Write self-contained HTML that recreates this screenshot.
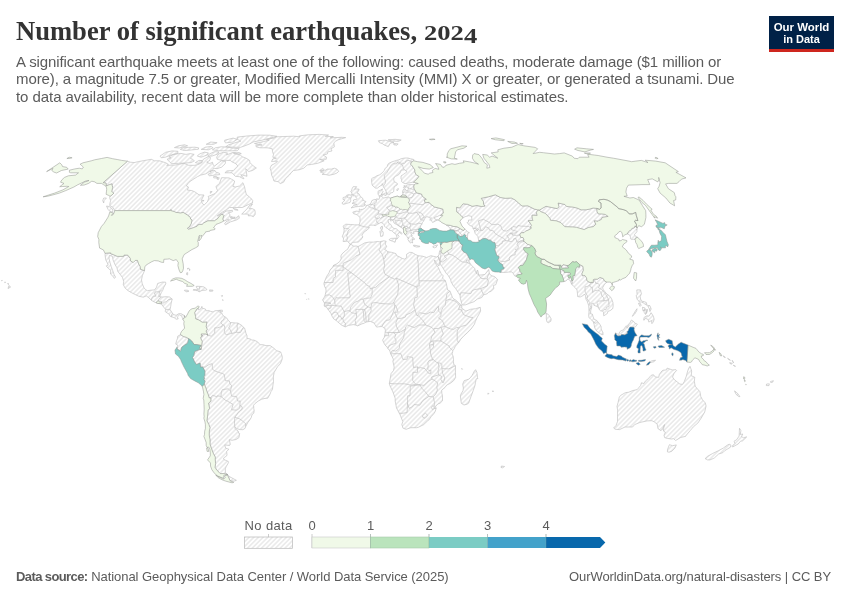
<!DOCTYPE html>
<html lang="en"><head><meta charset="utf-8"><title>Number of significant earthquakes, 2024</title>
<style>
html,body{margin:0;padding:0;background:#fff;}
body{width:850px;height:600px;position:relative;overflow:hidden;font-family:"Liberation Sans",sans-serif;}
.abs{position:absolute;white-space:nowrap;}
#title{left:16px;top:14.7px;font-family:"Liberation Serif",serif;font-weight:bold;font-size:28px;line-height:32px;color:#333;}
#tmain{display:inline-block;transform-origin:0 50%;transform:scaleX(0.949);margin-right:-21.9px;}
#yr{display:inline-block;font-size:20px;transform-origin:0 78%;transform:scaleX(1.33);}
#yr i{font-style:normal;display:inline-block;position:relative;top:3.5px;}
.sub{left:16px;font-size:15px;line-height:18px;color:#5b5b5b;}
.foot{font-size:13px;line-height:16px;color:#5b5b5b;top:569px;}
.lg{font-size:13px;line-height:14px;color:#5b5b5b;top:519px;transform:translateX(-50%);}
#logo{left:769px;top:16px;width:65px;height:35.7px;background:linear-gradient(#002147 0,#002147 33.1px,#ce261e 33.1px,#ce261e 100%);color:#fff;font-weight:bold;font-size:11px;line-height:12.3px;text-align:center;}
</style></head><body>
<div id="title" class="abs"><span id="tmain">Number of significant earthquakes,&nbsp;</span><span id="yr">202<i>4</i></span></div>
<div id="s1" class="abs sub" style="top:52.5px;letter-spacing:-0.104px">A significant earthquake meets at least one of the following: caused deaths, moderate damage ($1 million or</div>
<div id="s2" class="abs sub" style="top:70px;letter-spacing:-0.092px">more), a magnitude 7.5 or greater, Modified Mercalli Intensity (MMI) X or greater, or generated a tsunami. Due</div>
<div id="s3" class="abs sub" style="top:88px;letter-spacing:-0.057px">to data availability, recent data will be more complete than older historical estimates.</div>
<div id="logo" class="abs"><div style="margin-top:5px;transform:scaleX(1.04)">Our World</div><div>in Data</div></div>
<svg id="map" width="850" height="600" viewBox="0 0 850 600" style="position:absolute;left:0;top:0">
<defs><pattern id="hatch" patternUnits="userSpaceOnUse" width="3.3" height="3.3" patternTransform="rotate(-45)"><rect width="3.3" height="3.3" fill="#fff"/><path d="M-1,1.65H5" stroke="#e1e1e1" stroke-width="1.1"/></pattern></defs>
<path d="M127.5,161.2L130.4,162.2L134.1,162.6L138.8,161.5L145.0,160.4L151.3,159.3L154.5,160.8L159.5,160.8L165.8,162.8L168.4,164.4L166.7,165.3L175.4,165.0L179.7,164.2L183.9,163.3L188.8,165.3L194.8,165.3L199.1,164.2L202.2,161.5L203.3,159.3L208.7,156.3L210.5,157.6L209.8,160.4L206.7,162.2L209.8,163.5L212.5,162.2L213.0,164.8L214.7,165.9L218.9,162.6L221.4,160.8L225.6,161.5L225.2,163.7L221.7,167.1L217.1,168.7L213.6,168.2L212.4,170.5L208.6,172.1L205.6,173.9L200.7,175.1L197.4,176.7L192.5,179.8L189.0,182.2L186.3,185.8L188.5,187.0L187.4,190.1L191.9,190.6L194.9,191.9L199.0,194.8L204.0,195.0L201.2,200.5L202.3,203.3L204.1,205.0L207.4,201.8L208.9,198.0L208.1,196.5L215.0,193.6L217.5,190.6L215.9,186.5L219.5,183.4L221.6,177.7L229.0,177.9L231.8,179.3L234.6,181.0L234.0,183.6L232.8,186.3L235.3,187.0L239.5,186.0L242.9,182.7L244.6,187.0L245.3,190.6L246.3,194.3L249.2,196.8L250.7,198.0L252.7,200.5L252.5,203.0L248.4,204.5L242.4,207.5L234.4,207.5L229.4,207.5L226.5,209.8L222.7,211.9L217.2,215.9L222.2,213.4L226.1,211.1L232.4,210.3L232.6,211.6L228.4,213.1L230.0,214.4L229.8,216.2L230.8,218.2L231.8,218.5L235.0,218.5L238.8,215.7L239.4,218.2L236.4,220.0L230.7,221.8L225.7,224.7L224.5,223.9L226.0,221.8L229.2,220.0L228.7,219.0L226.0,220.3L223.7,221.1L222.7,219.0L223.9,215.4L223.2,214.7L221.4,214.5L219.1,216.4L217.8,218.5L214.5,220.8L207.9,220.8L203.8,222.9L202.2,224.4L199.7,224.4L197.3,225.2L197.1,226.2L193.2,227.8L188.4,229.3L187.5,228.5L187.7,227.8L189.3,227.0L189.9,226.0L191.3,223.4L192.0,220.0L190.3,218.8L190.8,218.0L189.4,217.0L188.8,215.9L183.2,212.4L180.4,213.1L178.2,212.6L175.9,212.4L174.3,211.6L171.2,210.8L170.9,209.6L170.4,210.6L114.6,210.6L114.3,209.8L112.8,207.3L109.7,205.5L110.0,203.0L110.6,200.5L109.7,198.0L109.7,197.3L110.0,196.3L112.0,195.0L113.9,193.1L111.7,191.6L112.7,187.2L112.0,185.1L112.1,183.9L109.5,184.6L106.2,186.0L106.1,183.1L103.1,182.7ZM105.0,253.3L105.2,255.9L105.7,259.8L107.1,262.5L108.2,265.1L106.2,265.9L108.4,268.5L110.7,270.3L110.5,274.0L113.4,276.8L114.4,278.4L115.6,277.1L114.2,274.8L112.8,270.8L111.2,266.4L110.0,262.5L109.0,258.5L109.4,255.4L112.5,256.4L113.0,259.8L115.0,264.6L116.9,267.7L117.8,271.4L120.5,274.8L122.5,277.6L123.7,281.3L123.3,284.7L125.1,288.1L128.1,290.7L131.2,292.5L134.9,294.4L138.7,296.2L143.2,297.2L146.3,295.9L148.8,297.8L151.5,300.4L154.1,301.9L157.4,303.3L161.3,303.8L161.9,304.8L163.9,307.4L165.6,309.3L165.2,311.6L167.0,312.9L169.2,314.2L170.0,316.1L171.6,316.9L174.1,317.6L176.1,319.2L178.2,318.9L177.4,316.9L179.6,314.8L181.8,316.1L182.4,318.2L183.0,319.5L184.5,317.6L184.3,315.5L181.2,313.7L178.7,313.7L176.1,315.3L173.4,314.5L171.7,312.1L170.0,309.5L170.7,306.4L171.2,303.0L172.2,299.1L169.5,297.0L166.1,296.7L162.6,297.0L159.7,296.7L161.3,292.5L162.7,290.4L163.8,287.3L165.8,283.9L165.6,282.1L162.2,282.1L157.7,283.4L156.5,287.3L154.4,289.9L150.9,290.2L147.4,290.7L145.3,289.4L144.0,287.8L142.3,283.9L141.5,280.0L142.4,275.5L144.5,270.6L140.5,269.3L140.2,266.4L138.6,263.8L137.5,260.4L135.3,260.4L133.2,262.5L130.5,260.9L130.3,258.3L127.7,255.1L124.0,255.1L123.6,256.4L117.4,256.4L110.1,253.3L110.5,252.8ZM112.6,212.1L109.7,211.3L108.0,209.3L106.5,206.0L109.0,206.5L111.5,208.0L112.9,210.1ZM103.7,203.0L102.7,200.5L103.8,198.0L106.4,198.0L104.1,200.5ZM241.7,214.1L244.0,211.9L247.0,208.8L249.4,205.5L252.5,204.0L250.6,206.8L249.1,208.6L252.1,208.6L254.7,209.8L255.2,211.9L255.1,214.4L253.4,216.7L251.0,215.7L248.3,215.9L248.4,214.1ZM230.8,216.4L233.2,217.2L235.2,217.2L233.3,218.2L231.0,217.5ZM233.1,208.3L237.7,209.6L238.0,210.3L234.6,209.8ZM243.1,178.6L239.5,176.7L235.3,176.3L232.0,172.8L224.9,172.8L226.9,170.9L233.3,170.5L235.6,168.2L237.8,165.9L235.8,163.7L231.4,161.5L230.5,160.4L226.4,160.4L221.4,160.4L217.3,159.3L216.6,157.2L218.6,154.0L223.3,152.3L227.5,152.9L226.5,155.0L232.6,152.5L235.0,152.5L237.8,154.0L240.2,155.0L242.2,156.7L246.1,158.2L249.6,160.4L250.0,162.6L253.2,165.9L256.4,168.0L252.5,170.5L248.4,171.6L245.7,168.7L246.4,172.1L247.0,176.3L240.7,174.6L244.0,178.6ZM210.3,170.9L215.0,170.5L215.7,172.1L219.3,173.2L219.8,174.6L214.6,175.1L209.6,175.8L207.9,174.4L211.1,172.8ZM168.3,160.4L169.8,162.2L171.6,163.7L178.8,163.3L185.7,163.0L191.2,162.6L194.4,160.8L192.5,159.3L190.3,158.2L194.2,154.4L190.3,153.6L186.1,154.4L180.9,153.4L173.3,154.4L168.8,157.0L171.1,157.8L167.0,159.3ZM160.0,156.1L161.3,157.8L165.3,157.2L171.0,155.0L177.8,153.4L177.9,151.3L172.2,150.9L165.6,152.3ZM197.3,156.1L201.1,157.2L207.2,155.0L208.4,152.9L204.5,152.1L199.4,154.0ZM207.8,156.1L211.9,156.1L217.8,154.0L219.0,151.9L214.4,151.7L209.3,154.0ZM195.4,162.6L198.8,163.5L202.1,162.6L202.1,160.6L199.0,160.4ZM212.4,149.8L218.6,150.7L227.8,150.9L237.4,150.7L239.2,148.6L233.4,148.2L227.0,147.0L221.1,146.8L215.4,147.8ZM225.7,146.8L232.9,147.2L240.3,147.4L244.9,145.8L249.7,143.9L253.0,142.0L262.0,140.2L269.4,138.4L276.9,136.3L269.7,135.2L258.9,135.1L246.9,136.0L237.2,137.1L237.3,139.3L240.9,141.1L234.5,142.9L228.6,144.8ZM224.7,140.2L233.1,138.1L237.3,139.3L233.3,142.0L225.6,142.9L224.5,141.4ZM180.3,149.4L184.4,150.5L191.2,150.0L198.4,149.2L198.6,147.8L194.8,147.2L188.4,147.4L183.3,147.8ZM201.2,149.4L208.5,149.8L213.1,147.8L211.0,146.4L205.4,147.2ZM174.4,147.6L179.2,148.0L187.6,145.8L184.5,144.8L178.5,145.8ZM206.2,144.3L213.6,144.3L217.1,142.7L210.7,142.0ZM233.5,153.4L236.6,154.4L241.3,153.6L239.0,152.5ZM213.7,176.5L216.4,176.5L218.2,177.9L213.7,177.9ZM217.3,177.9L219.2,177.7L218.4,179.6L216.9,179.1ZM201.9,200.3L204.1,200.5L202.7,201.3ZM210.4,191.4L212.2,191.6L210.3,193.3ZM254.5,143.5L263.6,141.6L269.2,140.2L266.4,139.3L273.9,138.1L276.4,136.8L285.0,136.5L293.6,136.2L300.0,136.8L299.3,135.9L308.2,134.8L319.2,134.4L328.5,135.0L325.2,136.3L333.4,136.6L330.2,137.9L341.6,137.3L345.7,137.6L338.2,139.8L335.7,141.1L333.8,142.9L334.1,144.8L334.4,146.8L330.9,148.8L332.0,150.9L327.8,151.9L327.3,154.0L323.1,155.0L326.6,157.2L326.2,159.3L319.6,159.3L324.2,160.8L317.8,163.3L311.7,164.4L307.2,165.0L303.8,168.2L299.0,169.8L293.5,170.5L291.1,172.8L289.4,175.1L285.6,178.6L283.6,182.2L280.3,183.6L278.2,181.7L273.9,181.0L273.1,178.1L271.6,175.1L271.2,171.6L270.1,168.2L271.4,165.3L275.8,163.0L277.5,161.1L271.5,161.5L272.8,158.9L276.4,158.2L272.8,157.2L273.5,154.4L272.6,151.9L272.2,148.8L267.5,147.8L259.9,147.8L256.1,146.8L255.9,145.2L262.1,145.0L255.7,143.9ZM193.2,290.2L195.5,290.4L197.5,290.7L199.2,291.8L202.1,290.4L205.5,290.2L206.9,289.7L205.7,288.1L203.6,286.8L199.8,286.4L196.8,286.3L195.9,286.8L197.1,287.8L197.6,289.7L193.5,289.5ZM184.4,290.2L187.3,290.2L189.0,291.2L186.7,291.8L184.5,290.7ZM209.6,289.9L213.0,290.2L212.7,291.2L209.5,291.2ZM220.5,310.3L222.3,310.1L222.3,311.9L220.4,311.9ZM187.2,268.5L189.1,268.2L188.0,269.3ZM186.8,272.7L187.7,272.7L187.6,275.0L186.5,274.5ZM189.4,269.0L190.0,269.3L189.6,270.6ZM221.4,295.7L222.8,295.7L221.8,296.5ZM222.5,299.6L223.2,299.9L222.9,300.6ZM180.5,334.6L177.7,336.2L177.5,338.3L176.6,340.7L175.7,344.1L177.8,345.1L177.1,347.2L177.2,349.3L179.1,350.1L180.3,351.4L180.9,350.3L181.8,347.2L184.7,345.1L187.0,343.8L187.9,342.2L188.6,338.6L186.3,337.3L183.5,336.5ZM198.8,307.4L198.0,309.8L199.4,309.5L201.1,308.5L201.9,306.4L202.2,308.2L205.4,309.0L206.2,310.8L208.8,310.6L210.8,311.4L213.1,311.9L214.9,310.8L220.3,310.3L218.6,311.6L222.2,313.5L222.4,314.8L224.6,316.6L226.6,317.9L228.4,320.5L230.6,322.6L235.2,322.9L238.0,323.1L241.9,325.5L243.4,327.3L244.6,328.1L245.9,333.1L247.0,335.7L247.0,338.3L250.7,339.1L251.6,340.1L253.9,340.1L257.4,341.7L260.2,344.8L262.5,344.6L266.0,345.6L270.2,345.6L273.6,348.0L276.4,350.6L280.6,351.9L281.3,353.5L282.3,356.9L282.1,359.4L280.4,363.7L277.5,366.8L274.2,372.3L273.3,377.0L273.5,381.5L273.0,384.8L272.4,389.6L271.1,391.4L269.7,394.8L267.7,398.2L265.0,398.4L261.7,399.2L258.2,401.1L254.8,403.7L253.6,405.2L253.8,408.6L254.2,410.5L253.8,413.1L252.0,414.9L251.1,417.8L249.8,419.9L247.8,422.5L245.6,426.6L245.1,428.3L242.9,429.7L240.1,429.6L236.4,428.5L234.8,427.0L235.1,428.8L238.2,431.1L238.6,433.2L239.7,433.5L238.9,437.7L236.1,439.5L232.0,440.3L229.3,439.7L230.3,444.4L229.5,445.5L224.7,444.9L225.6,448.1L228.9,449.3L227.7,450.4L226.6,451.4L227.0,454.8L226.7,455.8L223.5,458.1L224.0,459.6L228.3,461.4L228.4,462.8L226.1,466.8L225.3,468.8L225.4,472.6L227.8,474.6L224.2,473.6L220.2,473.6L219.1,472.3L216.9,470.3L215.0,467.3L215.6,463.5L215.2,459.6L215.3,457.1L213.2,453.2L211.3,448.1L210.0,444.2L210.0,439.7L209.2,435.1L209.3,431.1L210.0,427.7L208.9,424.6L206.9,420.7L207.5,416.8L208.1,410.2L209.6,408.4L208.5,403.2L210.9,401.1L210.8,397.9L209.2,397.9L208.2,394.5L206.9,391.4L205.9,388.0L204.2,384.1L205.0,381.5L203.7,378.8L204.8,378.3L203.7,377.0L204.8,375.4L204.9,371.0L202.6,366.9L200.5,367.1L200.1,363.1L196.5,364.5L194.5,361.8L192.5,357.4L193.8,355.6L194.6,351.6L198.7,349.8L201.2,349.3L202.2,341.2L200.8,338.8L200.8,337.0L202.7,335.7L201.3,335.4L201.3,333.9L205.5,333.9L208.0,335.2L207.8,335.2L206.0,331.0L207.2,329.4L206.1,326.5L206.9,322.1L202.3,322.3L198.9,320.0L195.7,318.9L195.6,316.6L194.6,312.7L196.6,309.3ZM227.6,475.2L230.1,480.8L234.2,481.1L236.4,480.3L233.2,478.6L229.9,476.8L228.7,475.8ZM349.7,244.7L351.0,244.4L353.8,246.2L356.2,246.0L358.1,246.5L361.2,244.9L364.7,242.9L369.0,242.1L373.5,242.1L377.6,241.5L379.3,241.8L383.8,240.8L386.2,241.3L385.4,243.1L385.5,244.7L386.7,246.2L386.0,247.6L384.6,249.6L386.6,250.4L387.7,251.7L391.5,252.3L395.9,253.6L396.9,255.9L399.2,256.7L402.4,258.5L404.6,259.1L406.7,257.5L406.5,254.4L409.7,252.3L412.1,252.5L415.3,254.4L418.1,255.7L422.5,256.2L426.6,257.5L428.5,256.7L430.9,255.7L433.8,256.4L436.5,257.0L438.0,256.4L440.0,261.2L439.0,265.9L437.4,264.3L435.6,261.9L434.7,260.0L434.5,261.2L435.5,263.5L438.1,267.2L439.4,270.0L441.2,273.7L443.2,275.8L442.6,278.2L445.3,280.8L446.3,283.4L447.0,287.0L447.6,289.9L450.1,291.2L452.5,297.5L454.0,299.1L456.3,300.4L458.7,303.0L460.4,304.3L461.3,305.1L461.9,306.9L461.6,308.0L462.4,308.6L465.9,311.1L470.5,309.3L472.8,309.0L475.5,308.7L480.3,307.3L480.6,311.0L479.4,313.5L477.2,317.4L475.4,321.3L474.4,324.3L471.0,329.1L467.2,332.9L464.1,335.7L460.8,339.2L458.6,342.7L456.9,344.3L455.1,346.7L454.1,348.9L452.9,350.6L452.7,351.6L452.0,354.0L453.1,356.1L453.5,359.2L453.4,361.6L453.8,364.5L454.9,365.2L455.5,365.8L455.4,372.3L455.6,376.2L455.6,377.5L453.6,380.7L450.3,383.3L446.7,385.1L445.0,387.5L441.7,390.1L441.8,393.2L442.5,395.8L442.5,400.8L440.1,403.2L438.0,403.9L435.6,406.3L436.1,408.5L435.2,411.5L433.9,413.6L431.3,416.5L428.7,420.2L427.6,420.9L423.7,424.6L418.5,427.2L416.7,427.7L410.8,427.7L406.1,429.3L402.9,428.1L402.7,427.0L401.8,424.6L402.8,421.5L400.9,416.8L400.1,414.8L399.2,413.1L396.5,408.0L395.2,401.1L395.2,398.3L392.9,391.9L389.8,385.4L389.3,383.4L390.3,378.1L391.1,373.6L393.5,370.6L394.2,367.1L392.9,361.3L393.4,359.2L392.0,356.6L390.9,354.3L390.4,352.7L389.8,350.9L387.9,348.5L387.1,347.2L384.7,344.6L382.6,340.1L384.3,337.3L384.7,335.4L385.0,333.5L385.1,332.2L385.4,330.6L384.9,328.1L383.3,327.6L382.1,326.3L381.7,326.5L378.7,326.8L376.6,327.1L375.0,324.7L374.0,322.9L370.3,321.4L368.0,321.7L365.3,322.3L364.6,323.1L362.0,323.8L357.7,325.9L355.3,325.0L353.3,324.6L348.4,325.4L345.2,326.9L341.7,325.2L337.6,321.8L336.0,320.3L333.7,318.9L332.0,316.1L331.0,313.5L328.9,310.6L328.0,309.5L326.7,307.3L324.2,306.0L324.5,303.1L322.5,299.9L324.8,296.5L326.1,291.0L325.7,287.6L325.0,287.6L323.9,283.9L324.3,282.1L326.7,276.3L329.0,272.9L330.0,270.0L332.5,267.3L333.7,265.2L336.9,263.8L339.8,261.4L341.2,258.8L340.9,255.9L342.1,253.8L345.9,250.4L347.5,249.4L348.8,246.8ZM475.6,369.7L476.9,372.3L477.5,377.5L477.9,378.6L476.3,378.8L475.4,382.8L475.0,385.4L473.2,390.6L471.0,396.6L468.6,403.2L467.0,404.2L464.0,405.0L461.4,403.4L460.8,399.8L460.4,395.8L461.0,394.0L463.0,390.6L463.4,388.0L462.7,384.1L464.1,380.7L466.4,379.9L468.8,379.1L470.7,377.3L472.2,375.2L473.2,373.3L474.4,371.0ZM413.7,160.8L413.9,159.5L410.2,158.7L407.9,158.0L404.8,158.0L401.1,158.7L398.9,159.8L396.5,160.4L394.2,161.1L391.8,161.9L389.4,163.0L387.9,164.2L387.2,166.4L385.0,168.7L384.3,170.5L382.7,172.1L381.1,173.9L379.4,174.9L376.8,175.8L375.1,177.0L372.4,178.1L371.7,178.6L371.6,181.0L371.7,182.4L372.2,185.1L372.9,186.0L375.7,188.2L377.5,188.0L380.2,186.0L382.0,185.1L382.3,183.6L383.0,185.5L383.5,187.2L384.9,188.9L386.3,191.9L387.0,193.1L387.5,194.3L388.3,194.7L389.8,194.6L390.0,193.1L392.3,192.6L393.0,192.3L393.7,191.4L393.9,188.7L394.3,186.7L396.9,185.1L397.6,183.9L396.5,182.7L394.2,181.7L393.7,179.3L394.0,177.7L395.6,176.3L398.8,174.6L400.4,172.5L401.2,170.2L404.4,169.8L407.1,171.6L405.7,172.8L403.4,174.4L401.0,176.0L401.0,178.6L401.8,179.8L401.5,181.5L403.0,182.7L405.0,183.7L408.6,183.0L412.1,182.3L413.5,182.2L416.9,179.1L419.0,176.5L415.8,174.4L414.8,171.6L414.9,170.0L413.3,167.5L411.9,165.5L410.8,164.4L411.0,162.6L412.6,161.5ZM414.4,184.6L408.5,184.6L406.2,185.3L406.3,187.0L408.4,187.5L408.2,188.7L408.0,190.6L406.1,190.6L405.1,188.8L403.1,189.7L402.5,191.9L403.0,193.8L402.9,194.8L401.1,195.7L400.6,196.9L398.7,197.0L397.9,196.0L394.5,196.8L390.1,198.3L388.6,196.8L386.0,197.5L383.7,198.0L382.3,197.0L380.9,196.0L381.7,194.3L382.2,192.6L383.3,191.9L382.0,190.6L382.5,188.9L380.5,190.1L378.1,191.1L378.0,194.1L379.1,195.8L379.8,198.0L379.4,198.3L379.1,199.3L376.5,198.8L376.2,199.5L374.2,199.5L371.9,200.6L371.0,203.0L369.4,204.5L368.3,205.0L367.3,205.4L366.2,205.6L365.7,207.5L364.7,208.3L362.7,209.3L360.3,209.6L359.3,208.9L359.3,211.5L356.4,211.1L352.8,212.1L353.5,213.6L357.4,214.9L360.0,217.7L360.0,221.8L359.2,224.9L354.6,224.8L350.6,224.5L345.8,224.2L343.0,226.2L344.0,228.3L344.1,230.8L343.6,233.2L342.2,236.9L343.4,237.8L343.5,239.1L343.1,241.5L345.4,241.5L347.4,241.0L348.9,242.9L350.4,244.2L353.0,242.3L357.3,242.1L358.0,242.3L360.6,240.0L362.9,237.0L361.9,235.2L364.2,231.9L367.1,230.1L369.4,227.8L368.9,226.7L369.8,225.2L372.1,225.1L373.7,225.2L375.1,225.7L377.7,224.2L381.0,222.4L382.9,223.3L384.0,224.7L384.5,226.2L385.8,227.5L387.3,228.3L388.2,229.2L390.0,230.5L391.3,230.6L392.7,231.5L394.2,233.2L395.7,233.7L397.0,237.1L396.1,238.9L397.0,239.2L397.9,237.9L399.1,236.3L397.7,234.5L399.0,232.4L400.6,233.2L401.6,234.3L401.9,233.3L400.7,232.0L398.3,230.9L396.6,228.8L394.1,228.5L392.3,227.3L390.7,224.4L388.7,223.3L388.2,221.1L388.0,219.8L390.9,219.1L390.4,220.8L391.2,221.2L392.3,220.0L393.4,221.3L394.1,223.1L396.8,224.7L400.5,226.9L402.5,228.3L403.3,228.9L403.6,230.4L403.7,232.6L404.9,234.0L405.2,234.6L405.6,235.0L406.9,236.5L407.8,238.2L409.1,238.0L408.2,238.4L407.9,239.5L409.1,241.5L409.4,242.1L411.0,243.1L411.6,242.1L412.7,243.0L412.1,240.8L413.1,240.2L412.0,239.2L413.5,239.2L414.2,239.9L414.3,238.4L412.7,237.4L411.5,236.6L411.6,235.6L412.3,235.8L411.3,234.0L410.5,232.7L411.1,232.2L412.3,233.2L413.4,233.7L414.4,233.2L413.2,231.9L414.2,231.4L417.4,231.5L417.7,231.9L419.4,232.2L418.2,233.5L419.2,232.7L420.8,231.3L423.7,231.1L424.1,230.6L421.5,228.8L421.5,228.5L420.3,227.3L420.9,225.4L422.1,224.0L422.1,222.9L423.8,220.8L423.9,220.3L424.7,218.8L425.6,217.0L427.1,216.7L428.1,217.0L430.0,218.0L431.6,218.0L429.6,219.9L431.6,220.3L432.0,221.8L432.7,222.4L433.5,222.1L435.8,220.8L437.9,219.9L436.4,219.5L434.6,218.8L434.0,217.7L435.0,217.2L437.9,216.3L439.3,215.4L440.6,215.4L443.4,213.1L442.9,209.1L438.7,208.0L434.5,207.0L430.2,203.8L429.1,202.3L425.3,202.8L424.2,200.0L426.4,199.3L422.4,196.3L421.6,194.1L416.4,192.8L414.8,189.7L414.2,189.2L413.8,186.3ZM351.1,207.9L354.1,207.2L355.5,206.8L358.5,206.5L360.3,206.2L363.0,206.2L365.3,205.1L365.3,204.5L363.9,204.3L364.5,203.5L365.9,201.5L363.5,200.5L362.9,200.8L363.1,199.3L362.3,197.8L360.2,196.5L359.6,194.8L358.7,193.6L356.8,193.1L357.5,192.3L358.7,190.4L359.1,189.2L355.9,188.9L354.6,189.4L356.7,186.7L353.2,186.7L352.1,188.7L351.5,190.6L350.7,191.4L352.0,193.1L351.5,194.8L353.3,194.1L352.7,195.8L355.7,195.8L355.9,197.3L356.9,198.5L356.4,199.5L353.7,199.8L353.3,201.0L354.4,202.0L352.0,203.3L354.2,204.0L356.6,204.3L357.1,204.3L355.5,205.0L353.5,205.5L352.5,206.8ZM350.0,202.5L350.7,200.5L350.6,199.5L350.8,198.0L351.8,196.8L350.9,195.0L348.5,194.7L346.5,195.3L346.0,196.8L343.1,197.5L343.0,199.5L344.9,200.0L343.2,202.0L342.0,202.8L342.5,204.0L343.7,204.3L346.1,203.5L348.7,202.8ZM322.2,174.4L323.6,173.2L320.3,171.9L324.1,170.7L319.7,170.5L322.7,168.4L325.0,170.5L327.3,169.1L331.3,169.1L334.5,168.2L337.1,169.3L338.7,171.4L336.9,173.0L334.1,174.2L329.0,175.3L326.0,174.6ZM378.4,140.7L382.6,140.4L385.5,140.2L388.6,141.1L394.0,142.4L390.4,143.1L388.3,146.6L384.2,145.0L382.5,143.7L379.4,142.6ZM388.2,139.8L395.2,139.3L401.2,140.0L398.7,141.3L392.2,141.1ZM393.6,143.5L398.1,143.9L397.0,145.2L393.9,144.8ZM389.2,239.5L391.1,238.4L396.0,238.2L395.1,242.3L392.7,241.3L389.2,240.0ZM379.8,231.4L382.0,230.5L383.3,232.4L383.0,235.8L381.8,236.3L380.5,236.3L380.4,233.7ZM382.2,226.0L382.6,228.0L381.9,230.1L380.6,228.8L380.6,227.3ZM413.5,245.2L415.1,245.3L418.6,246.0L419.7,246.0L419.6,246.8L416.3,247.0L413.6,246.1ZM432.8,246.6L434.3,245.9L437.6,244.9L436.3,246.8L436.6,246.9L434.5,247.8L433.1,247.4ZM383.6,193.8L385.1,193.1L386.6,192.8L386.7,194.1L386.0,195.5L384.1,195.0ZM381.3,194.3L382.7,194.1L383.3,195.0L382.4,195.5L381.6,195.0ZM396.7,189.9L397.9,188.4L398.5,188.7L397.9,190.1L397.2,190.9ZM403.4,187.5L404.6,186.7L405.9,187.0L405.1,187.7L403.8,188.2ZM403.7,186.0L404.5,185.5L405.4,186.0L404.5,186.5ZM446.1,224.9L448.5,226.5L450.1,228.5L450.2,229.8L452.3,230.1L452.9,229.8L454.6,230.9L455.1,232.4L456.2,233.7L458.0,234.5L459.8,236.3L462.0,236.6L464.4,234.5L465.8,235.3L465.3,236.9L467.4,237.9L467.6,235.6L467.8,233.2L469.4,232.7L467.5,231.9L466.1,230.1L464.7,228.8L463.6,230.6L460.5,228.8L456.9,226.7L453.7,226.5L450.4,225.4ZM440.4,244.4L440.6,246.2L440.9,247.7L440.4,249.6L439.5,251.7L439.3,252.5L439.0,254.5L438.0,256.4L440.0,261.2L440.6,264.8L442.3,266.9L444.3,270.3L446.1,273.2L448.1,275.3L450.6,279.5L451.2,282.1L453.2,285.5L455.7,288.6L458.2,292.5L460.0,295.4L460.4,298.5L461.7,303.5L462.3,305.1L465.7,304.8L469.5,303.3L474.0,301.7L477.3,299.1L481.8,297.5L483.6,294.8L487.2,293.8L488.5,292.3L490.9,291.4L493.9,288.7L493.4,285.5L495.8,284.7L497.6,279.5L494.6,276.6L490.9,275.5L489.3,273.2L488.7,269.5L488.1,270.3L486.7,272.1L484.9,274.5L480.9,275.0L478.7,275.0L478.2,272.1L477.5,270.0L476.6,271.6L476.7,273.6L475.2,271.1L474.9,268.5L472.7,266.6L471.4,265.1L470.3,263.8L469.2,261.7L468.8,260.1L470.1,259.8L468.6,257.2L467.6,255.1L466.5,253.3L463.7,252.0L461.8,249.4L461.9,247.6L462.8,244.9L461.0,244.2L459.2,241.2L457.4,240.8L455.2,240.8L453.8,241.0L450.6,241.3L446.8,242.3L444.6,242.1L442.5,242.3L441.6,242.1L442.0,243.4L441.1,244.7ZM478.7,240.6L477.8,236.3L475.3,233.7L474.2,230.6L476.6,229.8L478.3,231.1L475.1,228.0L473.2,229.1L472.6,226.5L469.6,225.4L467.1,222.6L468.4,222.1L468.5,220.0L472.0,220.0L471.5,216.4L468.8,215.7L466.9,216.2L465.0,216.7L463.2,217.7L461.9,216.7L459.1,213.6L456.7,211.9L456.5,207.3L459.7,208.0L463.1,203.8L467.6,204.3L472.2,206.3L477.0,205.5L481.3,206.5L485.1,206.0L483.5,204.3L483.5,201.8L481.2,198.3L488.4,196.8L495.3,194.8L500.4,197.5L505.6,198.3L511.3,198.0L514.9,199.8L522.0,206.0L527.8,205.8L534.4,209.1L538.5,210.1L536.2,212.1L537.2,215.4L532.0,215.2L532.4,219.5L533.1,220.3L528.1,220.8L529.3,221.8L531.6,225.4L530.7,226.0L531.3,228.3L528.4,230.1L525.6,231.1L524.0,232.7L521.4,232.7L520.0,234.3L520.0,235.0L520.7,237.4L523.1,237.6L524.1,240.2L523.2,241.0L524.4,241.5L527.3,244.2L531.6,245.5L529.9,247.6L527.0,247.8L523.8,247.6L523.6,249.4L525.0,251.5L526.1,252.5L528.2,253.8L527.1,257.0L526.4,259.8L524.7,262.5L522.9,265.3L520.1,265.6L518.2,267.7L519.7,269.0L519.8,271.1L522.2,274.0L517.4,274.8L516.2,276.3L514.6,275.8L513.2,273.4L511.8,271.9L508.5,272.1L505.2,272.4L500.9,272.4L501.2,269.8L504.0,268.7L504.1,267.4L502.9,267.2L502.5,264.6L500.1,263.2L497.6,260.2L499.0,257.8L498.9,256.2L496.9,255.9L495.4,251.5L494.7,249.1L495.7,247.6L495.4,245.2L494.9,242.6L493.1,242.6L490.5,240.2L488.5,240.0L485.6,238.4L482.8,238.7L480.6,240.2ZM596.7,208.4L593.1,208.0L589.7,209.1L586.1,209.8L581.1,209.8L577.0,208.0L572.4,207.0L566.7,206.5L564.9,204.5L558.1,203.0L558.9,206.8L557.2,208.6L551.7,207.5L546.0,206.3L542.9,208.0L539.5,210.1L540.6,211.6L545.6,213.6L549.8,218.2L550.5,220.3L556.1,220.8L560.8,222.6L564.8,226.7L572.4,227.0L576.3,227.3L584.2,229.6L588.4,227.5L593.3,226.7L595.9,224.2L594.2,220.8L598.0,221.3L598.5,220.8L601.3,219.5L602.0,217.5L608.2,216.4L605.1,214.4L601.7,213.9L598.3,213.9L597.1,211.6ZM567.2,265.6L563.2,264.6L561.4,266.6L560.6,265.1L561.0,267.2L561.7,268.2L564.6,268.2L568.6,268.0ZM564.1,281.6L563.2,278.4L561.9,274.8L560.7,274.0L560.4,270.8L560.5,269.0L562.3,270.0L563.9,270.6L564.2,272.4L569.2,272.4L570.5,273.2L570.1,275.0L567.9,275.3L568.1,276.8L569.3,278.4L570.5,276.3L571.9,280.8L572.1,282.6L571.7,284.2L570.7,282.3L569.9,280.0L568.0,279.2L567.2,279.7L566.0,281.0ZM571.7,284.2L573.3,286.0L575.3,287.8L577.0,289.9L577.5,293.8L577.6,296.5L580.2,297.0L583.4,295.4L584.2,294.1L585.5,295.7L585.9,299.1L587.4,301.7L588.7,305.6L588.9,308.2L589.0,312.1L588.7,314.8L588.9,317.4L590.6,319.2L593.2,321.6L594.1,324.4L594.7,327.8L596.4,330.7L598.5,332.5L601.3,334.4L603.1,334.8L602.9,332.5L601.2,329.1L601.1,326.5L599.6,323.9L598.1,322.1L596.6,320.3L594.0,319.2L593.0,316.3L592.3,314.0L590.7,314.0L590.7,310.8L591.6,307.7L591.8,304.8L591.7,303.3L593.7,303.3L593.9,305.3L597.0,306.4L598.8,308.0L599.4,309.8L600.6,310.8L602.5,311.1L603.5,312.1L603.7,315.8L605.1,315.0L607.3,313.5L608.0,311.1L608.9,311.1L610.7,310.3L612.8,308.5L613.2,305.6L612.9,302.5L611.5,298.5L609.8,296.2L607.0,294.1L605.1,292.0L603.3,289.7L602.6,287.8L603.5,286.0L604.5,284.2L606.9,282.1L604.5,281.0L603.4,278.7L600.0,277.4L597.4,279.2L594.0,279.2L593.3,279.7L593.0,282.9L591.5,282.1L591.5,282.7L589.0,282.1L586.8,280.5L586.6,277.9L584.8,275.5L582.4,275.8L582.0,273.4L583.4,270.3L583.0,266.4L579.7,264.6L579.4,267.2L577.5,266.9L575.7,268.7L575.2,272.1L574.7,275.5L572.9,275.8L573.1,280.2L571.9,280.8L572.1,282.6ZM627.3,234.0L629.7,235.0L630.5,237.1L630.4,238.7L631.9,239.5L633.0,239.2L635.1,239.5L635.3,238.2L637.7,237.4L635.0,235.8L634.4,234.3L635.8,233.2L637.2,231.1L636.2,229.1L637.1,229.8L637.3,227.8L637.0,227.5L634.8,226.0L634.7,227.5L632.1,228.5L630.7,229.8L629.4,231.1L627.9,232.4ZM546.0,312.9L547.2,313.5L549.4,315.8L551.2,318.9L550.8,321.3L548.3,322.7L546.9,321.8L546.3,318.7L546.4,315.8ZM615.6,332.9L617.2,333.9L618.8,334.4L619.7,331.8L621.1,330.7L623.3,329.9L625.5,326.8L627.8,325.2L630.0,322.6L631.4,320.0L633.8,321.6L634.8,323.1L637.4,324.2L635.5,326.8L633.9,327.3L630.2,327.1L629.3,328.1L628.4,330.5L627.1,331.8L627.6,333.3L624.9,334.9L621.6,334.5L620.7,335.7L617.7,336.1L615.8,334.1ZM649.9,361.7L652.6,360.5L655.6,360.3L653.6,361.8L650.3,362.6ZM636.8,289.9L640.5,289.9L641.4,293.8L640.2,296.5L640.6,299.1L641.8,301.2L644.2,301.7L646.3,302.5L647.1,305.3L645.2,304.3L643.4,303.0L641.2,301.9L639.4,302.2L638.5,300.4L637.2,299.6L636.2,295.7L637.1,294.4ZM643.6,320.0L644.1,317.4L646.8,315.8L649.1,316.1L651.1,312.7L653.3,316.1L654.2,319.2L653.4,321.8L651.9,323.7L651.5,320.5L648.8,322.1L648.2,319.5L645.6,318.4L643.9,320.3ZM647.6,305.6L649.9,305.6L651.2,309.0L649.9,311.6L649.4,309.0ZM643.7,310.1L646.2,309.8L646.0,312.4L645.5,314.5L644.2,312.4ZM642.5,307.2L645.1,308.0L644.7,310.3L642.9,310.8ZM638.4,303.3L640.2,303.3L641.2,305.3L640.1,306.4ZM637.0,308.7L636.7,310.8L634.7,314.0L632.3,316.3L633.1,314.8L635.5,310.8ZM647.1,309.0L647.5,310.6L646.4,313.5L646.6,311.1ZM690.0,366.3L691.7,371.0L691.2,375.7L694.8,377.3L694.3,381.2L695.2,386.2L697.5,389.0L699.9,391.6L700.8,396.6L702.5,399.8L705.3,402.9L706.1,406.0L704.7,412.0L701.2,418.1L697.9,423.0L693.5,426.7L690.4,430.4L686.4,435.1L685.5,436.4L680.8,437.4L675.6,440.5L673.6,438.7L671.3,439.0L667.3,438.4L664.7,437.7L664.0,435.3L665.4,432.2L663.5,431.1L663.6,428.5L664.5,424.6L662.3,429.6L660.3,430.6L659.0,429.0L658.0,428.8L657.2,424.1L654.4,422.0L652.0,420.7L647.0,420.9L639.8,422.5L634.6,424.6L632.6,427.0L625.0,427.0L619.6,429.6L615.3,429.3L613.6,428.0L616.1,425.4L617.5,421.5L617.5,416.8L617.6,410.2L617.0,406.3L618.1,402.4L619.3,397.1L620.8,395.3L625.3,392.7L628.8,392.2L632.5,390.6L637.2,389.6L640.7,385.4L641.4,382.8L644.0,383.5L645.5,380.9L648.2,378.8L651.0,375.4L653.4,374.7L655.3,377.0L658.7,377.3L659.3,374.4L661.9,371.0L663.1,370.2L666.6,369.9L667.0,368.1L672.3,369.9L676.0,369.7L676.6,370.5L674.2,373.1L672.5,377.0L674.3,379.6L677.3,382.0L679.9,384.1L682.6,384.3L684.3,381.5L686.3,376.2L687.4,372.0L688.6,368.4ZM669.4,444.7L672.6,445.7L676.3,444.9L674.9,448.1L671.9,451.2L669.1,452.2L667.4,451.9L667.5,449.6ZM739.5,428.3L740.9,430.6L740.3,434.5L742.8,434.0L741.5,436.6L743.4,437.7L746.7,436.9L742.7,440.8L740.4,441.3L738.3,443.9L732.6,447.0L732.1,446.2L734.9,443.4L734.0,441.3L736.6,439.7L739.1,436.1L739.4,430.4ZM729.2,444.2L731.0,445.2L730.3,447.3L724.9,450.6L722.8,452.7L718.6,454.0L714.2,458.1L710.0,459.9L707.5,459.9L705.1,458.6L707.6,456.3L712.6,453.5L718.6,450.6L723.3,448.1L727.2,445.2ZM734.5,390.9L737.4,393.2L739.9,396.6L738.8,396.6L736.0,394.3ZM766.5,384.1L769.3,383.8L769.0,385.6L766.3,385.6ZM770.5,381.5L773.4,380.7L772.6,382.2L770.7,382.5ZM723.2,355.8L725.4,357.4L724.2,357.4ZM729.7,362.6L732.4,363.4L731.4,364.2L729.8,363.4ZM732.2,360.3L733.6,362.9L732.8,361.6ZM727.6,358.2L730.4,360.3L728.6,359.5ZM733.3,365.2L735.5,366.3L734.1,366.0ZM8.0,288.6L10.6,287.0L8.9,285.5ZM7.5,283.6L9.0,283.9L8.2,284.4ZM4.5,282.1L5.6,282.3L4.8,282.6ZM1.5,280.5L2.4,280.5L1.8,281.0ZM501.4,466.0L504.6,466.5L502.7,467.8L501.0,467.5ZM492.5,390.9L493.6,391.1L492.8,391.9ZM487.8,393.2L488.9,393.5L488.1,394.3ZM461.7,368.4L462.4,369.2L461.9,369.4ZM308.3,298.8L309.0,298.8L308.8,299.3ZM304.8,293.6L305.5,293.6L305.3,294.1ZM306.5,299.3L306.9,299.3L306.7,299.6Z" fill="url(#hatch)" stroke="#c0c0c0" stroke-width="0.65" stroke-linejoin="round"/>
<path d="M208.0,335.2L211.2,336.2L214.7,333.1L214.8,327.8L217.6,327.8L221.8,326.5L222.5,324.7L220.9,322.9L221.7,320.8L223.6,319.7L224.6,316.6M222.5,324.7L224.1,325.2L225.0,328.1L224.2,332.3L226.2,334.9L228.6,334.1L232.0,333.3L233.4,333.1L236.4,332.3L240.4,332.5L243.4,327.3M230.6,322.6L230.3,324.7L228.7,327.8L230.2,329.7L232.0,333.3M238.0,323.1L237.0,325.2L237.4,329.1L236.4,332.3M202.6,366.9L205.1,367.1L209.1,364.5L212.3,363.7L212.4,369.2L215.0,371.0L218.5,372.3L222.7,373.6L224.2,374.4L225.3,380.7L229.4,380.9L229.6,383.5L231.6,385.4L231.1,388.0L230.5,391.1M230.5,391.1L228.2,388.8L222.4,389.6L221.3,391.9L221.0,396.4L217.1,395.8L216.8,397.1L215.1,396.1L212.5,395.3L210.8,397.9M230.5,391.1L231.6,396.1L236.6,396.6L237.7,401.1L240.2,401.1L239.9,405.2L239.8,408.1L237.6,409.7L236.3,410.2L231.5,409.7L233.1,404.5L231.0,403.2L227.4,401.1L225.0,400.0L221.0,396.4M239.9,405.2L242.1,406.8L242.2,409.2L239.7,411.0L237.8,413.1L234.8,417.3L239.5,418.8L243.5,421.7L245.6,423.8L245.6,426.6M234.8,417.3L234.5,420.7L234.5,423.3L234.8,427.0M358.1,246.5L358.8,249.4L359.9,254.4L355.9,255.9L354.3,257.5L351.4,259.8L348.1,261.2L343.2,263.2L343.1,266.9M343.1,265.9L333.0,265.9M343.1,266.9L343.1,270.3L335.6,270.3L335.4,277.0L333.2,278.2L333.1,282.5L324.1,282.5M343.1,266.9L351.6,272.9L365.1,283.1L366.6,285.2L369.8,286.5L370.0,288.6L372.2,288.2L375.7,287.3L379.5,283.8L389.5,276.8L385.0,274.2L383.6,269.8L384.6,265.6L383.7,259.2L382.3,254.4L378.9,249.9L380.6,247.6L380.2,242.9L381.1,241.8M383.7,259.2L385.3,257.5L385.2,255.4L387.8,253.0L387.7,251.7M351.6,272.9L347.7,272.9L349.9,295.1L350.4,295.7L349.7,297.8L341.2,297.8L338.0,298.0L336.2,297.5L335.5,299.3L334.6,299.9M334.6,299.9L331.9,296.2L329.4,294.9L326.0,295.1L324.8,296.5M334.6,299.9L335.0,304.3L336.3,305.9L331.1,305.2L324.2,306.0M324.5,302.7L328.1,302.2L330.9,303.3L328.1,303.8L324.4,304.0M331.1,305.2L331.0,307.7L328.0,309.5M336.3,305.9L341.2,306.1L344.1,311.6L344.3,311.6M331.9,314.8L333.8,312.4L336.7,312.1L338.1,314.8L338.8,316.1L336.0,320.3M338.8,316.1L340.6,316.3L341.8,319.2L342.9,318.4L343.4,321.6L345.4,323.1L345.2,326.9M342.9,318.4L344.3,316.1L344.3,311.6L348.3,310.6L349.9,311.1L350.6,307.2L352.4,305.1L353.6,303.3L356.1,301.7L357.9,301.2L360.9,299.1L363.0,299.2L365.5,298.3L370.5,298.0L372.1,294.4L372.2,288.2M349.9,311.1L351.7,312.9L356.3,313.5L356.7,316.9L355.1,320.5L356.0,324.2L355.3,325.0M356.3,313.5L355.8,309.5L362.3,309.3L363.4,311.4L363.7,316.3L364.1,320.5L365.3,322.3M362.3,309.3L364.6,309.5L365.7,314.0L366.2,321.8M364.6,309.5L368.0,306.9L364.6,304.3L363.0,299.2M368.0,306.9L370.8,307.7L371.2,310.8L368.9,314.8L368.7,321.6M370.8,307.7L371.9,303.0L376.2,302.5L380.4,303.5L385.4,303.8L391.2,304.0L393.7,302.5L397.8,294.1L398.6,285.0L396.4,278.2L394.6,279.2L389.5,276.8M396.4,278.2L417.0,287.3L417.0,286.0L419.2,286.0L419.0,280.8L418.1,261.9L417.2,259.3L418.1,255.7M419.0,280.8L445.9,280.8M417.0,287.3L417.3,297.2L414.8,297.8L413.6,305.1L415.1,309.8M393.7,302.5L394.8,304.8L396.0,306.4L397.2,309.5L398.1,312.1L394.7,312.3L397.5,318.7L401.7,318.2L405.3,317.1L406.2,314.8L410.8,312.9L415.1,309.8M394.8,304.8L394.2,309.5L392.0,315.3L389.7,320.0L386.0,320.3L383.3,323.9L382.1,326.3M397.5,318.7L395.9,322.6L396.4,326.3L399.4,332.5L393.2,332.5L388.6,332.5L385.1,332.2M388.6,332.5L388.6,335.7L384.7,335.7M393.2,332.5L395.8,334.6L394.6,337.8L396.0,339.9L395.8,343.3L391.4,344.6L389.3,345.6L387.9,348.5M399.4,332.5L405.4,329.1L404.3,332.5L403.6,337.8L399.9,343.5L399.2,348.5L397.8,349.5L395.7,351.1L392.5,350.3L391.6,351.4L390.6,353.5M405.4,329.1L405.4,327.1L407.5,325.0L414.2,327.6L418.8,325.0L425.7,325.0L423.3,321.0L418.2,315.5L416.6,315.3L415.1,309.8M417.5,315.5L419.5,312.7L426.9,314.0L430.3,312.1L433.8,312.7L436.9,307.7L438.7,306.4L438.3,310.8L440.9,313.5M441.0,315.8L440.9,313.5L441.3,310.6L443.1,307.4L445.3,305.1L445.8,300.6L446.9,293.8L450.1,291.2M445.8,300.6L449.2,299.3L451.7,300.1L455.9,301.4L459.8,305.6L461.3,305.1M459.8,305.6L458.5,309.5L461.1,309.8L461.9,308.5M461.1,309.8L463.8,314.8L470.7,317.4L473.0,317.4L466.3,325.2L461.7,326.3L459.4,327.6L459.2,328.0L456.6,327.3L453.7,329.4L450.4,328.9L445.6,326.8L445.3,326.3L443.9,324.2L442.5,320.8L438.5,317.9L441.0,315.8M445.3,326.3L441.0,327.3L438.7,328.4L434.0,328.6L433.6,329.1L430.6,326.8L425.7,325.0M459.2,328.0L457.2,331.0L457.2,340.4L458.6,342.7M441.0,327.3L442.1,330.5L443.3,333.9L441.0,337.5L440.8,340.9L449.3,346.1L449.5,347.5L452.9,350.6M433.6,329.1L434.8,332.5L431.8,336.2L430.9,339.6L430.9,342.0L429.9,342.7L429.5,345.4L429.9,348.2L430.3,349.9L430.7,354.0L432.7,359.7L433.4,359.7M440.8,340.9L432.9,340.9L433.8,344.3L433.2,344.6L433.6,346.9L431.0,349.9M430.9,342.0L432.9,340.9M429.5,345.4L431.5,344.6L433.2,344.6M433.4,359.7L436.1,362.1L438.2,362.9L440.7,363.1L441.8,364.5L441.9,368.6L442.6,368.6L448.6,368.9L455.5,365.8M441.9,368.6L442.3,371.0L442.7,373.6L444.6,377.3L444.3,380.1L443.0,383.0L440.9,379.6L441.5,376.2L438.5,374.9L438.0,371.0L439.0,367.1L438.2,362.9M433.4,359.7L429.0,360.5L427.8,362.6L428.2,365.8L427.7,369.2L429.0,370.7L430.9,370.2L430.8,373.3L428.5,373.3L425.0,368.6L420.6,367.6L418.5,368.1L417.6,366.8M417.6,366.8L413.5,367.6L413.1,364.2L412.7,357.4L407.4,356.6L407.2,359.2L403.0,359.5L400.8,353.7L392.5,353.7L390.9,354.3M417.6,366.8L417.5,372.3L412.9,372.3L412.7,380.7L415.8,384.3L411.2,385.2L404.7,383.8L394.4,383.8L389.3,383.4M415.8,384.3L420.0,384.8L415.5,385.4L410.3,386.2L410.0,395.8L407.7,395.8L407.5,403.2L407.1,412.6L401.5,413.4L399.2,413.1M407.5,403.2L409.1,408.4L411.8,407.1L414.2,404.5L419.7,405.2L423.1,400.3L428.9,396.4L425.3,391.9L421.6,388.0L420.0,384.8M420.0,384.8L424.0,385.4L428.2,381.5L432.0,379.1L431.6,377.0L438.5,374.9M432.0,379.1L434.0,380.1L437.7,382.8L436.8,387.5L437.4,390.1L435.8,394.0L433.2,396.9L428.9,396.4M433.2,396.9L434.5,402.4L434.2,406.2L434.3,408.5L436.1,408.5M434.2,406.2L432.5,405.8L431.5,407.6L432.5,409.7L434.3,408.5M425.3,413.1L427.8,415.4L425.1,418.3L422.8,417.3L422.5,415.7L425.3,413.1M411.0,162.5L411.4,161.5L409.0,160.4L405.8,161.1L405.6,162.2L404.6,163.3L401.3,163.3L398.5,161.9L397.0,162.5L402.5,165.0L403.5,168.7L404.4,169.8M397.0,162.5L396.3,163.9L393.1,163.7L391.4,164.8L390.3,166.6L389.2,168.7L387.9,170.9L386.7,173.0L384.2,175.1L384.5,178.1L385.5,181.0L385.2,183.4L384.4,184.6L383.7,185.8M358.7,225.1L364.0,226.7L369.1,227.4M343.8,228.8L345.2,228.3L348.6,228.7L349.4,229.6L347.9,231.1L347.6,234.5L346.5,234.8L347.5,238.4L346.5,241.0M367.6,205.3L368.9,206.3L370.9,208.0L372.1,207.7L374.2,209.2L375.4,209.3L379.1,210.6L378.0,214.1M369.3,204.6L371.0,204.6L372.4,204.4L374.0,205.1L374.5,206.2L374.8,204.5L374.4,203.4L375.9,203.0L376.4,201.5L376.6,199.9M374.5,206.2L375.1,207.3L374.7,207.8L375.5,208.6L375.4,209.3M374.2,209.2L374.0,208.0L374.7,207.8M378.0,214.1L376.8,214.7L375.0,216.8L375.0,217.7L376.5,218.2L376.9,218.5L377.0,220.3L376.4,220.8L377.1,222.6L378.3,223.0L378.1,223.9M376.9,218.5L378.8,218.4L379.8,217.5L380.8,218.6L381.6,217.2L383.2,217.2L383.9,216.1M378.0,214.1L380.0,213.9L382.0,214.4M390.4,211.2L387.4,208.6L386.7,207.3L388.5,206.8L391.0,205.5L392.0,205.9M379.1,195.8L380.9,196.0M396.8,211.6L398.6,210.6L400.4,209.3M397.2,213.1L400.8,213.6L403.1,212.6L406.0,211.9L407.4,212.1L408.0,210.3M395.7,215.9L396.3,217.0L397.9,218.2L401.2,218.5L404.1,218.0L406.0,217.2L407.3,214.4L409.0,213.1L407.4,212.1M390.6,217.0L390.3,218.2L390.9,219.1M390.6,219.5L392.4,219.5L394.1,219.5L394.8,217.7L396.3,217.0M395.1,221.3L395.2,220.3L397.4,220.2L401.9,221.1L402.0,220.0L401.2,218.5M395.1,221.3L396.2,222.9L399.2,226.0L401.3,227.3M401.9,221.1L402.8,222.6L402.6,224.7L401.3,227.0M402.6,224.7L405.1,226.4L403.7,227.1M405.1,226.4L407.4,226.5L407.9,227.9L405.9,228.8M407.9,227.9L409.6,227.8L410.5,225.4L409.6,222.9L406.8,221.2L407.0,220.3L404.1,218.0M407.0,231.5L410.9,230.4L409.6,227.8M410.9,230.4L414.2,229.7L417.7,229.8L418.2,229.3M409.6,222.9L410.2,223.8L415.7,224.3L418.7,223.1L422.1,224.0M409.0,213.1L412.3,213.3L416.5,212.5L419.4,215.7L420.7,219.7L423.9,220.3M416.5,212.5L418.2,211.9L421.7,213.3L424.3,217.2L422.0,218.2L420.7,219.7M409.3,204.3L411.9,203.3L416.4,204.0L420.5,204.5L423.1,204.8L425.3,202.8M408.2,198.1L412.0,197.5L413.7,194.8L413.5,193.9L416.4,192.8M413.5,193.9L410.1,192.1L404.4,192.1L402.7,192.8M408.2,188.6L410.0,188.2L412.5,189.4L414.2,189.2M151.5,300.4L151.7,298.5L153.1,296.2L156.1,296.2L154.2,293.2L155.1,293.2L155.3,291.8L159.5,291.8L159.5,291.4L160.6,291.2L161.6,289.9M159.5,291.8L158.8,296.7L159.5,296.7M156.1,302.3L158.0,300.6L158.5,299.3L161.0,297.2M158.0,300.6L159.8,302.1L161.7,301.9L161.3,303.3M162.4,304.3L163.9,302.2L166.2,301.8L168.5,299.6L172.2,299.1M165.6,309.3L167.9,309.5L170.2,309.8M171.6,316.9L171.7,314.5L172.5,313.2M473.2,229.2L476.1,227.8L479.9,230.4L480.9,230.4L478.4,220.8L483.4,219.3L489.2,222.4L492.0,224.7L497.9,224.2L501.0,226.0L501.5,228.5L503.2,230.6L506.5,231.1L508.3,230.1L510.4,228.5L511.8,227.8L513.1,226.5L516.9,227.3L518.0,225.4L521.2,226.2L523.9,226.2L528.6,226.5L531.2,228.0M480.9,230.4L483.0,230.4L485.5,226.7L488.7,228.0L489.5,230.1L493.5,230.9L495.3,233.7L499.9,236.5L503.3,238.2L506.0,240.6M495.4,245.2L498.9,246.0L499.6,244.4L502.2,243.4L502.4,241.3L506.0,240.6L508.8,241.0L509.6,241.7L512.1,241.3L513.7,240.0L513.8,238.7L515.8,238.4L517.0,242.1L519.1,241.7L520.9,240.5L524.0,240.8M508.8,241.0L508.9,238.2L506.6,235.8L508.7,234.9L509.9,233.2L512.7,234.0L511.9,234.9L516.3,235.4L520.0,235.0M511.8,227.8L511.6,229.8L515.3,230.9L517.4,231.5L516.3,232.7L513.5,233.2L509.9,233.2M497.6,260.2L501.4,261.4L504.9,261.4L509.6,260.1L509.2,258.3L510.2,256.4L512.8,255.1L515.2,254.9L515.0,251.7L516.6,251.0L515.3,249.4L517.9,249.1L518.3,246.2L516.9,244.2L519.1,241.8L522.4,241.9L524.2,241.5M447.5,251.0L448.8,254.2L451.5,254.7L455.5,257.0L461.9,261.9L465.7,262.2L466.0,262.2L468.0,262.5L468.7,263.6L470.3,263.8M466.0,262.2L466.7,260.0L468.8,260.1M448.8,254.2L444.1,255.9L446.6,258.5L445.7,259.8L442.5,261.9L440.2,261.5M441.1,252.7L440.7,253.6L440.8,255.9L440.2,260.9M439.5,251.7L441.1,251.0M460.2,295.4L460.9,292.8L463.2,292.8L468.3,293.3L470.8,293.6L472.2,290.7L474.2,289.7L480.7,288.6L483.6,294.8M480.7,288.6L487.3,286.0L488.4,280.8L487.1,278.9L481.2,278.4L478.7,275.0M487.1,278.9L488.1,275.0L488.7,273.7L489.3,273.2M476.7,273.6L477.7,274.0L478.7,275.0M450.2,229.8L454.6,230.9L457.7,230.4L460.5,228.8M454.6,230.9L457.7,230.4L459.2,231.7L461.7,235.0L462.0,236.6M589.5,311.2L589.9,309.5L591.1,307.4L590.0,305.3L589.7,302.5L587.0,298.8L587.6,296.2L585.3,292.3L585.0,289.9L585.0,286.8L587.2,286.5L589.5,285.1L590.4,283.9L591.5,282.7M589.5,285.1L590.7,287.3L592.3,287.3L592.6,292.5L594.9,290.7L597.5,290.2L599.1,290.4L601.2,292.8L601.7,295.7L603.6,297.5L604.2,300.8L603.3,300.9L598.3,301.0L597.1,302.7L597.1,303.5L598.7,307.8M593.3,279.7L595.3,281.6L595.8,283.4L598.1,283.6L599.7,285.0L598.5,287.8L601.7,289.4L605.6,294.1L608.3,299.1L608.6,299.9L605.1,300.6L603.3,300.9M608.6,299.9L609.1,306.1L606.7,307.2L605.8,309.5L604.0,309.7L602.6,311.1M593.2,321.4L595.6,323.4L597.9,322.0M625.5,326.3L627.4,327.8L628.5,325.5M199.2,291.8L199.0,289.7L199.8,286.4M350.3,197.8L348.3,197.8L346.8,196.8L348.2,195.5" fill="none" stroke="#c0c0c0" stroke-width="0.65" stroke-linejoin="round"/>
<path d="M114.6,210.6L114.3,212.4L112.9,214.9L111.3,215.4L113.5,212.9L112.4,212.7L109.8,212.1L108.6,215.9L107.7,217.7L104.1,223.4L101.4,226.5L98.2,232.7L97.7,236.6L98.9,239.5L98.8,242.6L99.6,248.1L103.4,249.9L105.0,253.3L110.5,252.8L110.1,253.3L117.4,256.4L123.6,256.4L124.0,255.1L127.7,255.1L130.3,258.3L130.5,260.9L133.2,262.5L135.3,260.4L137.5,260.4L138.6,263.8L140.2,266.4L140.5,269.3L144.5,270.6L144.8,266.9L146.1,265.1L148.7,263.5L151.8,261.7L154.3,260.6L158.2,260.9L161.2,262.2L163.6,262.5L163.9,259.3L167.5,259.1L169.4,258.8L173.2,260.6L176.3,259.6L178.3,262.5L177.9,265.6L178.8,269.0L179.1,270.0L180.3,272.7L181.9,272.4L182.8,270.8L183.5,268.2L183.2,263.8L182.2,258.8L184.1,254.6L186.9,252.8L191.9,249.6L195.6,247.8L198.2,246.2L198.3,242.6L197.7,241.5L198.3,238.9L199.0,235.8L200.2,235.3L199.1,238.9L198.8,241.0L200.9,238.9L201.7,236.9L201.3,235.3L202.3,236.3L205.3,232.7L205.5,231.9L210.0,231.1L210.3,230.4L214.7,229.6L215.1,228.5L213.5,227.5L214.4,226.7L216.0,224.4L218.8,223.4L221.2,222.4L223.7,221.1L222.7,219.0L223.9,215.4L223.2,214.7L221.4,214.5L219.1,216.4L217.8,218.5L214.5,220.8L207.9,220.8L203.8,222.9L202.2,224.4L199.7,224.4L197.3,225.2L197.1,226.2L193.2,227.8L188.4,229.3L187.5,228.5L187.7,227.8L189.3,227.0L189.9,226.0L191.3,223.4L192.0,220.0L190.3,218.8L190.8,218.0L189.4,217.0L188.8,215.9L183.2,212.4L180.4,213.1L178.2,212.6L175.9,212.4L174.3,211.6L171.2,210.8L170.9,209.6L170.4,210.6ZM127.5,161.2L103.1,182.7L106.1,183.1L106.2,186.0L109.5,184.6L112.1,183.9L112.0,185.1L112.7,187.2L111.7,191.6L113.9,193.1L112.0,195.0L110.0,196.3L108.9,195.5L106.1,194.3L106.4,191.9L106.7,189.4L106.5,187.7L105.5,185.8L103.4,184.6L101.5,183.4L96.9,183.4L94.7,181.9L91.8,181.2L88.6,183.4L84.0,185.1L80.4,185.3L84.3,182.2L89.0,180.5L85.7,181.0L81.7,182.9L77.7,184.8L73.9,187.0L65.8,190.6L59.4,193.1L52.5,195.0L47.3,196.3L43.1,196.8L48.6,195.0L54.6,193.1L62.8,189.9L68.8,186.5L66.8,186.3L62.8,186.5L59.7,186.7L64.0,183.4L60.5,182.2L61.9,179.8L64.5,177.4L68.4,175.8L75.5,175.1L78.5,172.8L75.0,172.8L70.7,172.8L69.4,172.3L69.4,170.2L74.9,168.9L79.3,168.2L82.2,168.9L83.4,167.1L81.8,165.7L80.1,164.2L83.0,162.8L91.3,160.8L94.7,159.8L101.4,158.5L107.1,157.4L112.6,158.7L117.2,159.5L121.8,160.4ZM170.5,281.0L172.8,278.9L175.7,277.9L178.6,277.9L181.9,278.4L185.1,280.0L187.8,281.8L191.0,283.4L194.2,285.5L192.3,286.3L186.6,286.3L187.5,284.4L184.7,283.4L182.7,281.6L178.3,280.2L176.2,279.2L173.8,280.2ZM184.3,315.5L185.6,317.4L187.6,314.0L189.0,311.1L190.7,309.5L192.1,308.7L195.1,308.2L198.0,305.9L199.3,306.7L198.8,307.4L196.6,309.3L194.6,312.7L195.6,316.6L195.7,318.9L198.9,320.0L202.3,322.3L206.9,322.1L206.1,326.5L207.2,329.4L206.0,331.0L207.8,335.2L208.0,335.2L205.5,333.9L201.3,333.9L201.3,335.4L202.7,335.7L200.8,337.0L200.8,338.8L202.2,341.2L201.2,349.3L199.3,348.2L200.9,345.4L196.3,344.6L194.2,344.6L191.6,340.9L188.6,338.6L186.3,337.3L183.5,336.5L180.5,334.6L180.5,333.6L181.5,331.5L184.6,328.1L183.8,323.9L184.1,321.3L183.0,319.5L184.5,317.6ZM202.3,386.3L203.4,391.1L203.9,394.5L203.2,398.4L203.8,400.0L204.0,404.7L204.2,409.2L203.9,414.1L204.2,416.8L203.8,418.1L205.0,422.0L205.4,424.6L205.4,428.5L204.7,431.1L204.5,434.5L203.9,436.4L204.9,439.0L206.2,442.6L206.2,445.5L207.1,447.5L208.6,447.0L209.8,449.3L210.3,452.7L210.3,455.8L209.0,457.8L207.5,459.9L210.5,463.0L210.5,466.0L211.9,469.8L214.7,473.6L217.8,476.1L220.9,477.3L223.7,478.3L223.7,476.5L223.8,475.3L225.7,474.8L227.8,474.6L224.2,473.6L220.2,473.6L219.1,472.3L216.9,470.3L215.0,467.3L215.6,463.5L215.2,459.6L215.3,457.1L213.2,453.2L211.3,448.1L210.0,444.2L210.0,439.7L209.2,435.1L209.3,431.1L210.0,427.7L208.9,424.6L206.9,420.7L207.5,416.8L208.1,410.2L209.6,408.4L208.5,403.2L210.9,401.1L210.8,397.9L209.2,397.9L208.2,394.5L206.9,391.4L205.9,388.0L204.2,384.1ZM227.6,475.2L225.9,475.3L224.5,476.1L225.3,477.6L224.5,478.3L223.1,479.1L220.5,477.6L217.4,476.1L215.8,475.1L218.1,477.6L222.1,479.8L225.6,481.1L228.9,482.0L232.1,482.8L233.8,482.3L230.1,480.8ZM207.6,447.7L206.6,448.1L207.1,451.4L208.8,451.4L208.3,449.3ZM402.9,194.8L401.1,195.7L400.6,196.9L406.7,197.2L406.3,195.8L404.9,195.3ZM400.6,196.9L398.7,197.0L397.9,196.0L394.5,196.8L390.1,198.3L390.7,199.8L390.3,200.9L391.2,201.5L391.5,202.8L391.4,203.5L392.3,205.3L392.0,205.9L393.2,206.0L395.0,206.4L395.3,207.5L396.3,207.0L397.9,207.3L398.6,208.0L400.4,209.3L401.7,209.2L402.6,210.1L403.6,209.6L405.8,209.6L408.0,210.3L408.3,208.8L409.9,207.0L410.5,206.0L409.3,204.3L409.1,202.8L408.2,202.3L409.5,201.3L409.0,198.3L408.2,198.1L406.7,197.2ZM382.0,214.4L383.9,214.3L384.9,214.7L387.4,214.1L389.0,214.4L388.5,212.6L390.4,211.2L392.8,210.6L395.1,211.2L396.8,211.6L397.2,213.1L396.1,214.4L395.7,215.9L393.3,216.7L390.6,217.0L387.9,216.4L387.2,215.7L383.9,216.1L382.1,215.6ZM403.3,228.9L403.6,230.4L403.7,232.6L404.9,234.0L405.2,234.6L405.8,234.3L406.5,233.5L407.1,232.2L406.3,231.1L405.8,230.4L405.9,228.8L404.7,227.3L403.7,227.1ZM413.7,160.8L417.7,161.7L422.9,162.4L430.0,164.6L433.4,167.5L429.3,169.1L423.0,168.4L418.3,166.8L423.0,171.6L424.4,173.2L428.2,174.2L429.7,173.2L433.0,172.5L432.3,170.5L435.1,168.4L438.9,169.3L438.1,167.1L435.6,163.5L440.5,164.4L442.4,167.1L444.2,167.3L445.9,165.3L452.0,163.7L454.9,164.4L459.4,163.3L464.1,162.6L463.2,160.8L469.6,161.9L474.4,163.0L478.5,164.2L474.4,161.5L472.4,158.2L472.7,155.0L474.1,153.6L478.9,154.6L481.9,158.2L484.3,162.6L487.4,164.8L486.8,168.2L489.9,167.5L489.1,164.8L483.9,158.2L482.7,154.4L487.2,155.0L489.6,157.2L492.1,156.1L497.8,158.2L491.2,152.9L498.2,151.9L497.8,149.8L503.9,148.2L511.9,147.2L518.0,144.5L523.9,145.8L535.1,147.4L537.7,148.8L535.3,151.3L533.1,153.6L539.7,152.3L543.3,152.7L554.4,154.0L559.4,153.6L564.2,152.9L572.3,156.1L574.1,158.2L577.9,158.7L579.3,157.2L584.2,157.2L589.1,157.2L587.8,155.0L587.8,154.2L594.3,155.0L598.1,155.5L607.0,157.2L613.4,158.2L629.0,161.1L631.6,161.7L635.7,161.1L641.4,160.4L648.0,162.6L645.2,160.2L655.7,161.1L665.2,162.8L678.4,171.6L675.9,172.3L683.2,176.3L686.0,177.9L681.6,179.1L679.2,181.5L677.0,183.4L668.7,183.4L665.6,183.9L667.4,187.0L668.4,188.7L674.3,192.6L675.0,195.5L675.9,196.8L675.7,200.0L673.6,200.5L674.6,205.8L669.9,203.0L665.9,198.0L660.1,193.1L657.7,188.7L659.1,186.3L660.1,182.7L658.7,177.4L658.9,179.8L657.8,181.9L652.3,178.9L647.7,179.6L649.8,184.6L642.0,184.6L638.0,184.8L628.4,185.1L626.5,188.2L625.9,192.1L627.2,196.0L623.9,196.3L629.9,198.0L633.4,197.5L639.1,200.0L642.4,205.5L645.7,210.6L645.9,214.4L645.9,217.5L644.9,222.1L644.3,224.4L641.6,226.7L638.6,225.7L637.3,227.8L637.0,227.5L636.2,226.2L636.5,224.7L634.5,221.1L635.4,220.3L637.9,220.6L636.2,215.2L635.7,212.4L632.3,213.9L629.2,213.9L626.5,210.8L623.2,209.6L618.5,208.6L617.6,207.3L610.3,201.5L607.2,200.0L603.9,199.3L599.2,199.8L598.5,201.5L601.0,203.0L601.1,208.0L599.5,209.3L596.7,208.4L593.1,208.0L589.7,209.1L586.1,209.8L581.1,209.8L577.0,208.0L572.4,207.0L566.7,206.5L564.9,204.5L558.1,203.0L558.9,206.8L557.2,208.6L551.7,207.5L546.0,206.3L542.9,208.0L539.5,210.1L538.5,210.1L534.4,209.1L527.8,205.8L522.0,206.0L514.9,199.8L511.3,198.0L505.6,198.3L500.4,197.5L495.3,194.8L488.4,196.8L481.2,198.3L483.5,201.8L483.5,204.3L485.1,206.0L481.3,206.5L477.0,205.5L472.2,206.3L467.6,204.3L463.1,203.8L459.7,208.0L456.5,207.3L456.7,211.9L459.1,213.6L461.9,216.7L463.2,217.7L461.5,219.0L459.9,221.3L462.0,226.0L464.7,228.8L463.6,230.6L460.5,228.8L456.9,226.7L453.7,226.5L450.4,225.4L446.1,224.9L445.4,224.4L441.4,222.4L440.9,221.6L438.4,220.3L439.7,218.2L441.5,217.0L442.8,215.4L440.6,215.4L443.4,213.1L442.9,209.1L438.7,208.0L434.5,207.0L430.2,203.8L429.1,202.3L425.3,202.8L424.2,200.0L426.4,199.3L422.4,196.3L421.6,194.1L416.4,192.8L414.8,189.7L414.2,189.2L413.8,186.3L414.4,184.6L415.2,183.9L418.3,183.6L415.9,182.9L413.5,182.2L416.9,179.1L419.0,176.5L415.8,174.4L414.8,171.6L414.9,170.0L413.3,167.5L411.9,165.5L410.8,164.4L411.0,162.6L412.6,161.5ZM446.4,157.2L447.3,157.2L447.2,154.0L448.7,150.9L450.5,148.8L457.0,147.2L462.0,145.8L466.9,146.2L463.9,148.2L457.4,149.8L455.6,151.9L455.0,155.0L454.3,158.2L457.3,159.1L451.4,158.9ZM491.1,138.6L495.9,137.9L504.6,139.7L503.9,140.7L495.5,139.8ZM507.7,141.4L514.3,142.0L517.5,143.3L511.9,143.5ZM519.7,143.3L523.2,143.7L521.5,144.1ZM429.4,139.3L433.4,138.9L435.1,139.4L431.2,139.8ZM574.6,149.2L577.0,147.8L586.3,148.8L593.5,149.4L590.2,150.2L584.9,151.9L578.0,150.5ZM584.4,153.1L590.4,152.9L589.6,154.0L586.9,153.8ZM654.9,158.0L655.9,157.2L658.1,158.5L656.5,158.7ZM639.1,197.0L643.2,200.5L646.7,204.3L652.2,209.3L650.8,210.1L653.6,214.4L656.3,216.2L657.6,218.2L654.6,216.7L654.7,218.2L652.0,214.4L649.2,210.6L645.6,205.5L642.0,202.5L639.6,199.5L638.0,197.3ZM443.6,161.7L445.8,161.9L445.8,163.0L443.9,162.8ZM59.8,162.8L61.8,164.8L62.6,166.6L66.7,167.3L68.2,169.1L61.4,170.5L56.6,173.0L53.9,172.1L51.8,170.5L53.0,168.4L46.6,171.6ZM69.1,157.2L72.1,157.8L69.4,158.5L66.9,158.5ZM440.4,244.4L440.6,246.2L440.9,247.7L441.9,247.8L442.5,248.9L441.3,249.9L441.1,251.0L441.1,252.7L443.5,253.8L447.5,251.0L452.0,248.3L452.0,245.2L452.1,242.9L453.8,241.0L450.6,241.3L446.8,242.3L444.6,242.1L442.5,242.3L441.6,242.1L442.0,243.4L441.1,244.7ZM627.3,234.0L624.9,234.8L622.7,236.9L622.5,235.0L621.8,232.4L620.6,231.4L619.0,231.7L617.2,234.0L614.7,235.8L614.9,237.6L617.9,238.9L619.0,239.5L619.2,241.0L621.2,240.5L622.4,239.5L626.8,240.5L626.9,241.8L623.6,244.2L622.3,246.8L626.2,249.9L628.5,253.3L631.4,255.7L631.7,257.2L630.3,258.3L629.5,259.1L633.1,260.1L633.6,263.8L632.4,265.1L631.1,268.2L630.7,270.3L629.6,273.4L628.3,274.5L625.9,277.4L622.2,278.9L620.6,280.0L619.1,279.2L619.1,280.5L615.9,281.6L613.7,282.3L612.4,282.6L612.4,285.2L610.8,282.3L609.4,282.1L606.9,282.1L604.5,281.0L603.4,278.7L600.0,277.4L597.4,279.2L594.0,279.2L593.3,279.7L593.0,282.9L591.5,282.1L591.5,282.7L589.0,282.1L586.8,280.5L586.6,277.9L584.8,275.5L582.4,275.8L582.0,273.4L583.4,270.3L583.0,266.4L579.7,264.6L576.5,261.7L574.6,262.2L572.7,261.7L570.5,263.5L568.9,265.3L567.2,265.6L563.2,264.6L561.4,266.6L560.6,265.1L559.1,265.3L556.6,265.3L554.4,265.1L551.9,263.8L549.4,262.7L546.9,261.4L544.2,259.3L542.0,259.3L539.4,257.8L537.0,256.7L536.2,255.9L534.8,253.0L535.8,251.5L534.4,248.1L531.6,245.5L527.3,244.2L524.4,241.5L523.2,241.0L524.1,240.2L523.1,237.6L520.7,237.4L520.0,235.0L520.0,234.3L521.4,232.7L524.0,232.7L525.6,231.1L528.4,230.1L531.3,228.3L530.7,226.0L531.6,225.4L529.3,221.8L528.1,220.8L533.1,220.3L532.4,219.5L532.0,215.2L537.2,215.4L536.2,212.1L538.5,210.1L539.5,210.1L540.6,211.6L545.6,213.6L549.8,218.2L550.5,220.3L556.1,220.8L560.8,222.6L564.8,226.7L572.4,227.0L576.3,227.3L584.2,229.6L588.4,227.5L593.3,226.7L595.9,224.2L594.2,220.8L598.0,221.3L598.5,220.8L601.3,219.5L602.0,217.5L608.2,216.4L605.1,214.4L601.7,213.9L598.3,213.9L597.1,211.6L596.7,208.4L599.5,209.3L601.1,208.0L601.0,203.0L598.5,201.5L599.2,199.8L603.9,199.3L607.2,200.0L610.3,201.5L617.6,207.3L618.5,208.6L623.2,209.6L626.5,210.8L629.2,213.9L632.3,213.9L635.7,212.4L636.2,215.2L637.9,220.6L635.4,220.3L634.5,221.1L636.5,224.7L636.2,226.2L637.0,227.5L634.8,226.0L634.7,227.5L632.1,228.5L630.7,229.8L629.4,231.1L627.9,232.4ZM609.5,288.1L611.7,290.7L613.7,289.1L614.5,286.8L612.0,285.7ZM634.3,272.4L636.7,272.9L636.5,278.2L635.7,281.0L633.5,278.2L634.0,274.0ZM542.0,259.3L544.2,259.3L546.9,261.4L549.4,262.7L551.9,263.8L554.4,265.1L556.6,265.3L559.1,265.3L559.9,269.3L557.4,269.0L552.8,268.5L550.2,266.6L548.6,266.6L543.0,264.3L540.8,263.0L541.1,260.4ZM635.1,239.5L635.4,240.5L635.6,242.3L636.9,244.4L637.8,247.3L638.7,248.6L640.9,247.6L643.5,246.5L643.3,244.2L641.9,241.5L637.7,237.4L635.3,238.2ZM688.0,345.1L688.7,345.4L693.9,347.6L696.0,348.4L698.8,351.9L701.4,353.7L703.3,354.3L703.3,355.6L701.3,356.0L701.6,357.7L703.3,359.2L704.3,360.8L706.1,361.8L707.5,363.7L709.4,365.1L707.2,366.0L705.0,365.2L702.3,364.7L701.1,363.1L699.7,361.6L698.7,359.5L696.0,358.2L694.9,357.9L692.9,359.7L692.4,360.3L691.6,361.8L690.4,362.4L686.9,362.1ZM704.5,352.7L707.3,352.7L709.6,352.7L712.0,351.1L713.7,349.3L714.1,350.9L711.9,352.9L709.5,354.5L706.0,354.5ZM710.7,345.1L713.4,346.9L715.5,350.1L714.8,350.1L712.2,346.9ZM719.1,352.4L720.6,353.5L721.8,355.8L720.4,355.8ZM743.7,376.7L744.9,377.5L744.5,379.4L743.5,378.8ZM744.3,380.1L745.5,380.9L744.7,381.7ZM745.7,384.3L746.3,384.6L745.8,384.8ZM156.1,302.7L157.4,303.3L161.3,303.8L161.7,301.9L159.8,302.1L158.0,300.6Z" fill="#f0f9e8" stroke="#8e918c" stroke-width="0.5" stroke-linejoin="round"/>
<path d="M177.1,347.2L174.9,350.1L175.5,354.0L178.4,356.3L180.6,359.5L181.6,362.1L184.0,367.1L185.6,369.9L187.9,374.1L187.8,374.9L190.6,378.6L194.7,380.9L198.3,382.8L200.1,384.3L202.3,386.3L204.2,384.1L205.0,381.5L203.7,378.8L204.8,378.3L203.7,377.0L204.8,375.4L204.9,371.0L202.6,366.9L200.5,367.1L200.1,363.1L196.5,364.5L194.5,361.8L192.5,357.4L193.8,355.6L194.6,351.6L198.7,349.8L201.2,349.3L199.3,348.2L200.9,345.4L196.3,344.6L194.2,344.6L191.6,340.9L188.6,338.6L187.9,342.2L187.0,343.8L184.7,345.1L181.8,347.2L180.9,350.3L180.3,351.4L179.1,350.1L177.2,349.3ZM417.7,231.9L419.4,232.2L418.2,233.5L419.2,232.7L420.8,231.3L423.7,231.1L424.1,230.6L421.5,228.8L421.5,228.5L419.3,228.3L418.2,229.3L418.7,230.4L418.2,231.4ZM450.2,229.8L446.6,231.1L443.0,231.1L439.7,230.4L436.2,228.5L433.1,228.5L430.0,229.3L429.1,230.4L426.0,230.9L424.1,230.6L424.0,232.2L420.9,232.7L418.3,233.7L418.2,235.3L419.8,236.3L419.8,237.9L419.0,238.4L421.1,240.0L421.4,241.5L423.1,242.6L425.5,243.4L428.4,243.6L428.8,241.8L431.7,242.9L433.6,244.2L436.1,243.4L437.3,242.1L439.5,242.6L440.8,242.3L440.0,243.4L440.4,244.4L441.1,244.7L442.0,243.4L441.6,242.1L442.5,242.3L444.6,242.1L446.8,242.3L450.6,241.3L453.8,241.0L455.2,240.8L457.4,240.8L459.2,241.2L458.5,239.5L457.3,237.9L457.3,235.3L458.0,234.5L456.2,233.7L455.1,232.4L454.6,230.9L452.9,229.8L452.3,230.1ZM467.4,237.9L468.0,240.0L470.7,240.5L472.7,242.1L476.0,242.3L479.2,241.8L478.7,240.6L480.6,240.2L482.8,238.7L485.6,238.4L488.5,240.0L490.5,240.2L493.1,242.6L494.9,242.6L495.4,245.2L495.7,247.6L494.7,249.1L495.4,251.5L496.9,255.9L498.9,256.2L499.0,257.8L497.6,260.2L500.1,263.2L502.5,264.6L502.9,267.2L504.1,267.4L504.0,268.7L501.2,269.8L500.9,272.4L498.6,272.1L495.0,271.9L492.2,271.1L490.0,268.0L488.4,267.2L486.7,268.2L485.0,269.0L482.0,268.0L479.7,266.1L475.5,262.7L473.6,259.6L471.0,258.8L470.1,259.8L468.6,257.2L467.6,255.1L466.5,253.3L463.7,252.0L461.8,249.4L461.9,247.6L462.8,244.9L461.0,244.2L459.2,241.2L458.5,239.5L457.3,237.9L457.3,235.3L458.0,234.5L459.8,236.3L462.0,236.6L464.4,234.5L465.8,235.3L465.3,236.9ZM648.7,249.4L650.1,247.0L651.4,245.2L654.7,245.2L657.8,244.9L657.9,242.1L658.3,240.2L658.6,242.1L661.2,240.8L661.4,239.2L661.6,236.3L660.1,233.7L659.6,232.2L659.3,230.6L660.9,230.1L663.0,232.4L665.4,234.8L666.2,238.2L667.0,241.5L668.4,244.9L667.5,247.0L666.2,245.2L665.4,246.2L665.5,247.8L663.9,247.8L661.3,247.8L660.4,246.8L661.5,248.6L660.0,250.8L657.9,249.4L657.6,247.8L654.8,247.8L651.6,248.6L650.0,249.4ZM648.8,249.6L650.9,250.4L652.2,252.5L652.1,255.1L651.4,257.2L650.0,256.4L649.1,254.1L647.7,252.8L646.6,251.2L647.9,250.2ZM652.6,249.4L655.0,248.3L656.8,248.9L657.2,249.9L656.7,251.2L654.9,250.7L654.7,252.8L652.9,251.5L651.8,251.0ZM658.2,229.8L657.7,228.0L656.0,227.0L656.1,225.2L658.0,225.2L656.5,222.1L655.1,219.8L658.5,221.3L663.0,223.4L664.6,222.6L665.2,224.4L667.2,224.9L665.0,226.0L664.3,228.8L660.8,227.3L659.0,227.8L657.4,227.3L659.6,229.1L660.3,229.1L659.2,230.1Z" fill="#7bccc4" stroke="#8e918c" stroke-width="0.5" stroke-linejoin="round"/>
<path d="M516.2,276.3L517.5,277.6L520.5,278.4L518.4,280.0L521.0,283.4L523.4,284.2L525.6,283.4L526.4,280.2L527.4,283.1L528.0,288.6L529.4,293.8L531.2,297.8L534.0,304.6L536.6,309.0L537.7,312.1L541.0,317.1L542.5,315.0L544.7,314.0L546.1,311.4L546.6,304.0L545.6,298.3L548.0,296.7L550.3,294.9L552.2,292.0L555.6,287.8L557.7,286.5L559.7,284.2L559.4,282.1L562.1,281.8L564.1,281.6L563.2,278.4L561.9,274.8L560.7,274.0L560.4,270.8L560.5,269.0L562.3,270.0L563.9,270.6L564.2,272.4L569.2,272.4L570.5,273.2L570.1,275.0L567.9,275.3L568.1,276.8L569.3,278.4L570.5,276.3L571.9,280.8L573.1,280.2L572.9,275.8L574.7,275.5L575.2,272.1L575.7,268.7L577.5,266.9L579.4,267.2L579.7,264.6L576.5,261.7L574.6,262.2L572.7,261.7L570.5,263.5L568.9,265.3L567.2,265.6L568.6,268.0L564.6,268.2L561.7,268.2L561.0,267.2L560.6,265.1L559.1,265.3L559.9,269.3L557.4,269.0L552.8,268.5L550.2,266.6L548.6,266.6L543.0,264.3L540.8,263.0L541.1,260.4L542.0,259.3L539.4,257.8L537.0,256.7L536.2,255.9L534.8,253.0L535.8,251.5L534.4,248.1L531.6,245.5L529.9,247.6L527.0,247.8L523.8,247.6L523.6,249.4L525.0,251.5L526.1,252.5L528.2,253.8L527.1,257.0L526.4,259.8L524.7,262.5L522.9,265.3L520.1,265.6L518.2,267.7L519.7,269.0L519.8,271.1L522.2,274.0L517.4,274.8Z" fill="#bae4bc" stroke="#8e918c" stroke-width="0.5" stroke-linejoin="round"/>
<path d="M582.3,323.7L587.4,324.7L589.3,327.3L590.3,328.4L593.1,330.7L595.3,332.5L598.1,334.6L600.4,336.7L602.3,338.3L601.5,340.9L603.8,343.3L604.7,344.3L607.2,346.1L606.9,348.8L606.5,353.5L605.3,352.7L603.7,353.7L602.0,351.1L598.6,348.2L595.7,344.1L594.3,340.8L593.0,338.3L590.7,333.9L588.1,331.8L586.9,329.9L584.3,327.6ZM604.9,356.1L606.9,353.7L608.7,354.3L612.2,354.8L612.8,355.8L616.9,356.5L618.4,355.0L621.8,356.3L622.2,357.1L625.1,358.4L626.2,358.7L626.0,361.1L622.7,360.0L618.1,359.7L613.6,358.4L611.2,358.7L607.9,357.7ZM626.1,359.7L627.8,359.4L628.9,360.3L627.6,361.3ZM629.3,360.3L630.7,359.7L631.1,361.1L629.5,361.6ZM631.4,360.5L633.8,359.5L634.9,360.3L636.7,360.3L636.4,361.3L632.9,361.8L631.3,361.6ZM638.5,360.3L641.1,360.3L645.3,359.5L645.7,360.0L644.5,361.1L641.0,361.6L638.5,361.3ZM636.2,363.1L638.6,362.6L640.3,364.2L638.4,365.2L636.6,363.9ZM646.4,365.2L647.8,362.9L649.9,361.7L650.3,362.6L648.5,364.8ZM615.6,332.9L614.3,335.7L614.8,338.3L614.7,339.6L616.8,341.7L616.5,342.5L616.9,345.9L620.4,345.9L621.0,347.2L624.5,346.9L627.0,347.2L627.2,349.3L630.2,347.7L631.2,346.1L631.5,344.1L632.3,341.7L633.4,339.9L633.9,338.3L634.8,336.2L637.1,335.7L635.0,332.5L634.0,329.7L634.4,328.9L633.9,327.3L630.2,327.1L629.3,328.1L628.4,330.5L627.1,331.8L627.6,333.3L624.9,334.9L621.6,334.5L620.7,335.7L617.7,336.1L615.8,334.1ZM651.6,334.1L648.9,335.7L646.6,335.8L644.3,335.7L642.0,334.9L641.5,334.9L639.7,336.5L639.2,337.8L639.2,340.1L638.0,343.3L637.0,345.4L636.7,347.5L638.5,348.8L637.9,351.6L638.1,352.9L640.2,352.9L640.1,350.1L640.4,346.1L641.9,345.4L642.9,348.2L643.0,350.9L643.9,351.1L646.1,350.1L645.4,348.8L644.8,346.9L644.0,343.5L642.8,343.3L644.2,342.5L646.1,340.8L647.5,340.7L647.3,339.9L644.3,340.7L643.4,340.7L641.5,342.0L640.1,340.4L639.9,338.3L640.4,337.0L642.0,337.1L644.3,337.0L646.6,337.0L648.9,337.4L651.0,335.8ZM657.0,335.7L658.1,332.8L658.1,335.2L659.7,334.4L658.6,336.2L659.8,337.5L658.2,337.3L658.8,340.4L657.7,339.1L657.5,337.5ZM658.0,346.1L661.5,345.6L664.6,347.2L662.6,347.5L659.1,347.5ZM653.4,346.7L655.7,346.4L656.1,347.7L654.0,348.2ZM665.6,340.7L668.6,339.3L672.2,340.7L672.4,342.2L673.0,345.6L675.3,347.1L678.4,344.1L681.2,342.2L682.9,343.1L687.4,344.8L688.0,345.1L686.9,362.1L685.7,360.5L682.6,359.5L682.3,360.0L679.5,360.3L680.4,357.7L682.5,357.1L681.9,356.1L681.0,352.7L678.5,351.1L676.1,350.1L674.0,349.5L672.4,348.5L671.1,347.8L669.4,349.0L669.0,347.2L667.9,345.9L669.6,344.8L671.7,344.6L668.9,344.1L667.3,343.5L666.2,342.2ZM672.0,352.7L673.3,353.7L672.7,356.1L671.7,354.5Z" fill="#0868ac" stroke="#8e918c" stroke-width="0.5" stroke-linejoin="round"/>
</svg>
<svg width="850" height="600" viewBox="0 0 850 600" style="position:absolute;left:0;top:0">
<g stroke="#b8b8b8" stroke-width="0.7" fill="none">
<rect x="244.5" y="537" width="47.9" height="11.3" fill="url(#hatch)"/>
<path d="M268.5,534V537M312,534V548M370.5,534V548M429,534V548M487.5,534V548M546,534V548"/>
</g>
<rect x="312" y="537" width="58.5" height="11" fill="#f0f9e8" stroke="#c8c8c8" stroke-width="0.6"/>
<rect x="370.5" y="537" width="58.5" height="11" fill="#bae4bc" stroke="#a9c9ab" stroke-width="0.6"/>
<rect x="429" y="537" width="58.5" height="11" fill="#7bccc4"/>
<rect x="487.5" y="537" width="58.5" height="11" fill="#43a2ca"/>
<path d="M546,537H600L605.3,542.5L600,548H546Z" fill="#0868ac"/>
<path d="M370.5,534V548M429,534V548M487.5,534V548M546,534V548" stroke="#8a9" stroke-opacity="0.5" stroke-width="0.6"/>
</svg>
<div class="abs lg" style="left:268.6px;letter-spacing:0.35px">No data</div>
<div class="abs lg" style="left:312px">0</div>
<div class="abs lg" style="left:370.5px">1</div>
<div class="abs lg" style="left:429px">2</div>
<div class="abs lg" style="left:487.5px">3</div>
<div class="abs lg" style="left:546px">4</div>
<div id="f1" class="abs foot" style="left:16px;letter-spacing:-0.047px"><b id="fb" style="letter-spacing:-0.6px">Data source:</b> National Geophysical Data Center / World Data Service (2025)</div>
<div id="f2" class="abs foot" style="right:19px;letter-spacing:-0.077px">OurWorldinData.org/natural-disasters | CC BY</div>
</body></html>
